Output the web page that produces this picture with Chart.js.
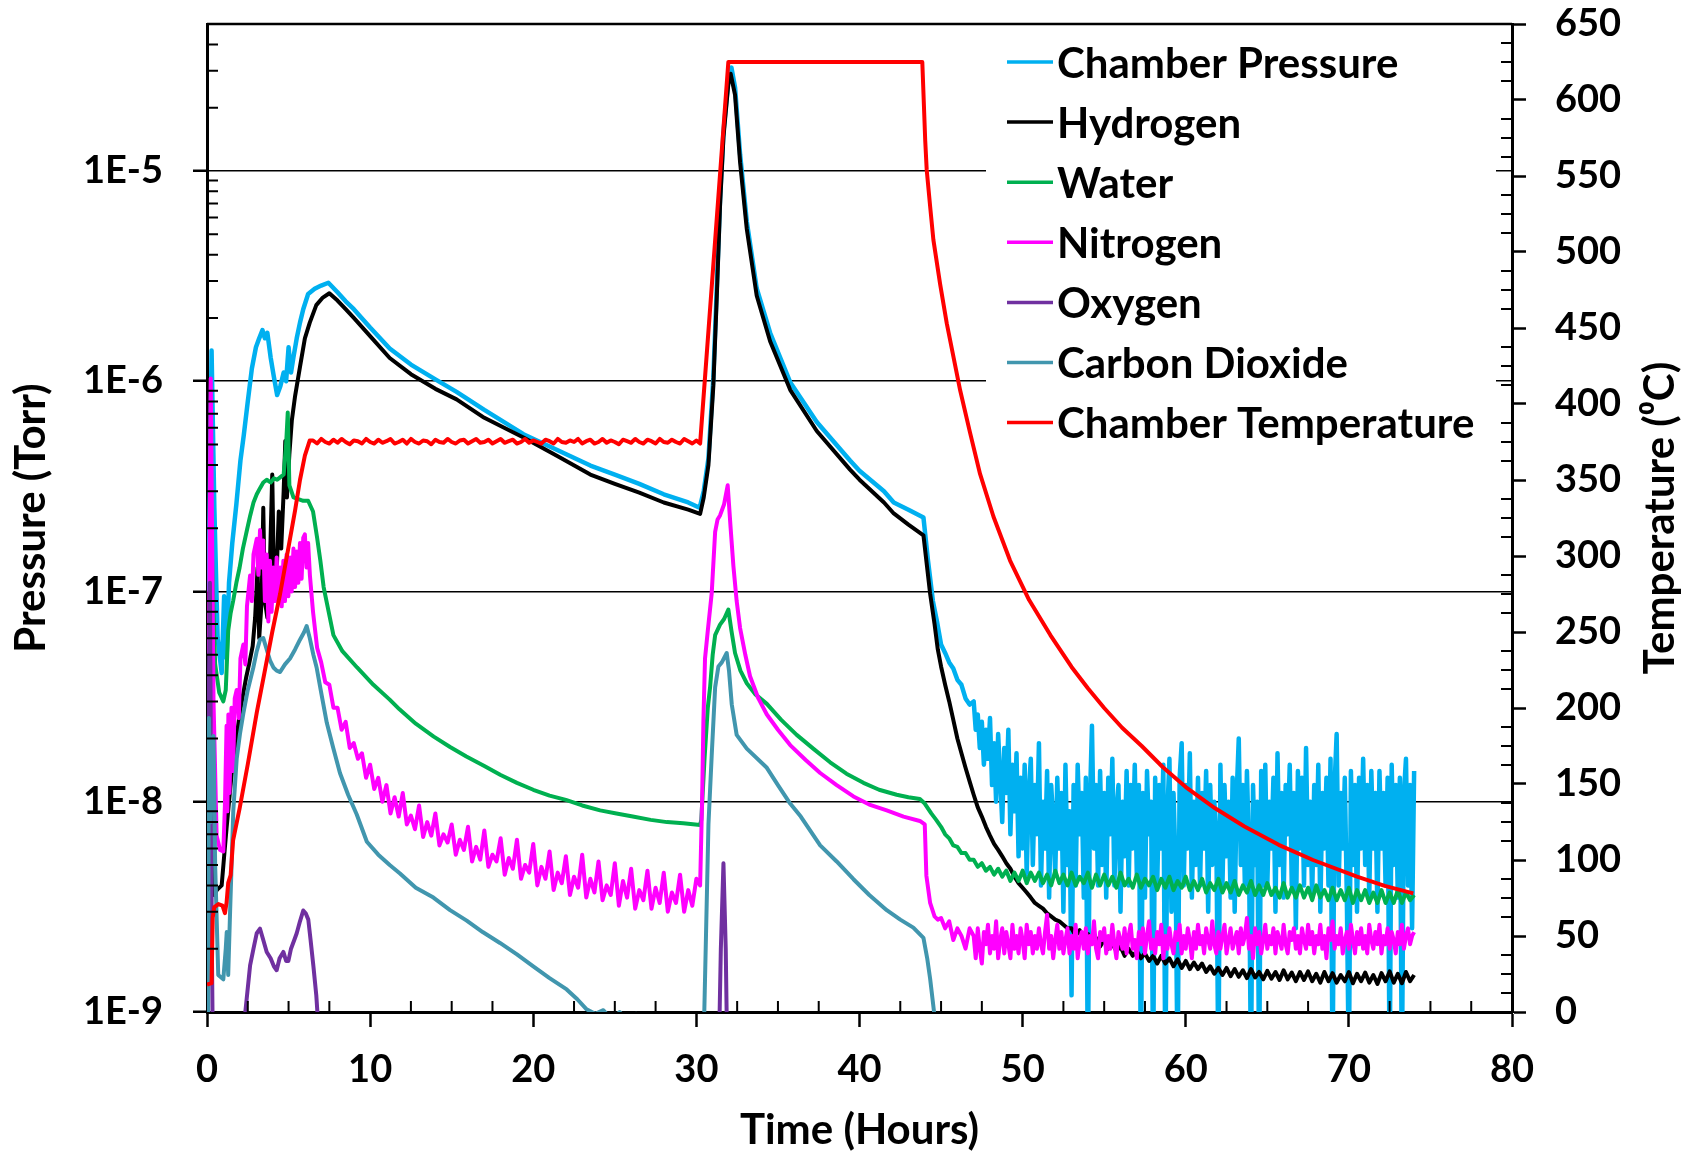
<!DOCTYPE html>
<html>
<head>
<meta charset="utf-8">
<title>Chamber bakeout</title>
<script src="https://cdn.jsdelivr.net/npm/chart.js@4.4.1/dist/chart.umd.min.js"></script>
<style>
  html, body { margin: 0; padding: 0; background: #ffffff; }
  #wrap { width: 1694px; height: 1151px; }
</style>
</head>
<body>
<div id="wrap"><canvas id="bakeoutChart"></canvas></div>
<script>
// ---------------------------------------------------------------
// Data (hours, Torr, degC)
// ---------------------------------------------------------------

// shared sampling grids for the noisy stretches
const midHours = [
  6.5, 6.75, 7, 7.25, 7.5, 7.75, 8, 8.25,
  8.5, 8.75, 9, 9.25, 9.5, 9.75, 10, 10.25,
  10.5, 10.75, 11, 11.25, 11.5, 11.75, 12, 12.25,
  12.5, 12.75, 13, 13.25, 13.5, 13.75, 14, 14.25,
  14.5, 14.75, 15, 15.25, 15.5, 15.75, 16, 16.25,
  16.5, 16.75, 17, 17.25, 17.5, 17.75, 18, 18.25,
  18.5, 18.75, 19, 19.25, 19.5, 19.75, 20, 20.25,
  20.5, 20.75, 21, 21.25, 21.5, 21.75, 22, 22.25,
  22.5, 22.75, 23, 23.25, 23.5, 23.75, 24, 24.25,
  24.5, 24.75, 25, 25.25, 25.5, 25.75, 26, 26.25,
  26.5, 26.75, 27, 27.25, 27.5, 27.75, 28, 28.25,
  28.5, 28.75, 29, 29.25, 29.5, 29.75, 30
];

const tailHours = [
  45, 45.25, 45.5, 45.75, 46, 46.25, 46.5, 46.75,
  47, 47.25, 47.5, 47.75, 48, 48.25, 48.5, 48.75,
  49, 49.25, 49.5, 49.75, 50, 50.25, 50.5, 50.75,
  51, 51.25, 51.5, 51.75, 52, 52.25, 52.5, 52.75,
  53, 53.25, 53.5, 53.75, 54, 54.25, 54.5, 54.75,
  55, 55.25, 55.5, 55.75, 56, 56.25, 56.5, 56.75,
  57, 57.25, 57.5, 57.75, 58, 58.25, 58.5, 58.75,
  59, 59.25, 59.5, 59.75, 60, 60.25, 60.5, 60.75,
  61, 61.25, 61.5, 61.75, 62, 62.25, 62.5, 62.75,
  63, 63.25, 63.5, 63.75, 64, 64.25, 64.5, 64.75,
  65, 65.25, 65.5, 65.75, 66, 66.25, 66.5, 66.75,
  67, 67.25, 67.5, 67.75, 68, 68.25, 68.5, 68.75,
  69, 69.25, 69.5, 69.75, 70, 70.25, 70.5, 70.75,
  71, 71.25, 71.5, 71.75, 72, 72.25, 72.5, 72.75,
  73, 73.25, 73.5, 73.75, 74
];

// right after the bake: 45-46.75 h, then the finely sampled gauge noise
const dropHours = [45, 45.25, 45.5, 45.75, 46, 46.25, 46.5, 46.75];
const denseHours = [
  47, 47.125, 47.25, 47.375, 47.5, 47.625, 47.75, 47.875,
  48, 48.125, 48.25, 48.375, 48.5, 48.625, 48.75, 48.875,
  49, 49.125, 49.25, 49.375, 49.5, 49.625, 49.75, 49.875,
  50, 50.125, 50.25, 50.375, 50.5, 50.625, 50.75, 50.875,
  51, 51.125, 51.25, 51.375, 51.5, 51.625, 51.75, 51.875,
  52, 52.125, 52.25, 52.375, 52.5, 52.625, 52.75, 52.875,
  53, 53.125, 53.25, 53.375, 53.5, 53.625, 53.75, 53.875,
  54, 54.125, 54.25, 54.375, 54.5, 54.625, 54.75, 54.875,
  55, 55.125, 55.25, 55.375, 55.5, 55.625, 55.75, 55.875,
  56, 56.125, 56.25, 56.375, 56.5, 56.625, 56.75, 56.875,
  57, 57.125, 57.25, 57.375, 57.5, 57.625, 57.75, 57.875,
  58, 58.125, 58.25, 58.375, 58.5, 58.625, 58.75, 58.875,
  59, 59.125, 59.25, 59.375, 59.5, 59.625, 59.75, 59.875,
  60, 60.125, 60.25, 60.375, 60.5, 60.625, 60.75, 60.875,
  61, 61.125, 61.25, 61.375, 61.5, 61.625, 61.75, 61.875,
  62, 62.125, 62.25, 62.375, 62.5, 62.625, 62.75, 62.875,
  63, 63.125, 63.25, 63.375, 63.5, 63.625, 63.75, 63.875,
  64, 64.125, 64.25, 64.375, 64.5, 64.625, 64.75, 64.875,
  65, 65.125, 65.25, 65.375, 65.5, 65.625, 65.75, 65.875,
  66, 66.125, 66.25, 66.375, 66.5, 66.625, 66.75, 66.875,
  67, 67.125, 67.25, 67.375, 67.5, 67.625, 67.75, 67.875,
  68, 68.125, 68.25, 68.375, 68.5, 68.625, 68.75, 68.875,
  69, 69.125, 69.25, 69.375, 69.5, 69.625, 69.75, 69.875,
  70, 70.125, 70.25, 70.375, 70.5, 70.625, 70.75, 70.875,
  71, 71.125, 71.25, 71.375, 71.5, 71.625, 71.75, 71.875,
  72, 72.125, 72.25, 72.375, 72.5, 72.625, 72.75, 72.875,
  73, 73.125, 73.25, 73.375, 73.5, 73.625, 73.75, 73.875,
  74
];

// Chamber pressure (ion gauge)
const pressureHours = [
  0.1, 0.28, 0.45, 0.65, 0.9, 1.05, 1.2, 1.35, 1.55, 1.8,
  2.05, 2.25, 2.5, 2.75, 3.0, 3.2, 3.4, 3.55, 3.7, 3.9,
  4.1, 4.3, 4.5, 4.7, 4.85, 5.0, 5.15, 5.3, 5.5, 5.7,
  5.9, 6.2, 6.6, 7.0, 7.44, 8.0, 8.5, 9.0, 10.0, 11.2,
  12.5, 14.0, 15.3, 17.0, 19.4, 21.5, 23.5, 25.0, 26.5, 28.0,
  29.5, 30.2, 30.45, 30.74, 31.04, 31.25, 31.45, 31.66, 31.96, 32.15,
  32.37, 32.68, 33.09, 33.7, 34.52, 35.75, 37.38, 39.42, 40.0, 41.5,
  42.1, 43.0, 43.92, 44.2, 44.5, 44.75
];
const pressure = [
  1.0e-7, 1.4e-6, 2.5e-7, 6e-8, 4.1e-8, 9.5e-8, 4.8e-8, 1.1e-7, 1.7e-7, 2.6e-7,
  4.2e-7, 5.5e-7, 8e-7, 1.15e-6, 1.45e-6, 1.6e-6, 1.75e-6, 1.6e-6, 1.7e-6, 1.3e-6,
  1.05e-6, 8.6e-7, 9.5e-7, 1.1e-6, 1.0e-6, 1.45e-6, 1.1e-6, 1.3e-6, 1.6e-6, 1.9e-6,
  2.2e-6, 2.6e-6, 2.75e-6, 2.85e-6, 2.94e-6, 2.65e-6, 2.4e-6, 2.2e-6, 1.8e-6, 1.43e-6,
  1.2e-6, 1.02e-6, 8.9e-7, 7.3e-7, 5.6e-7, 4.7e-7, 3.97e-7, 3.6e-7, 3.25e-7, 2.9e-7,
  2.65e-7, 2.5e-7, 3.0e-7, 4.3e-7, 1.04e-6, 2.76e-6, 7.3e-6, 1.53e-5, 2.7e-5, 3.1e-5,
  2.5e-5, 1.2e-5, 5.75e-6, 2.76e-6, 1.7e-6, 9.9e-7, 6.4e-7, 4.2e-7, 3.75e-7, 3.0e-7,
  2.65e-7, 2.45e-7, 2.25e-7, 1.4e-7, 9e-8, 7.2e-8
];
const pressureDrop = [5.6e-8, 5.1e-8, 4.6e-8, 4.3e-8, 3.8e-8, 3.6e-8, 3.1e-8, 2.9e-8];
const pressureNoise = [
  3.0e-8, 2.2e-8, 2.6e-8, 1.8e-8, 2.4e-8, 1.5e-8, 2.2e-8, 1.6e-8,
  2.5e-8, 1.2e-8, 1.9e-8, 1.0e-8, 2.1e-8, 1.3e-8, 8e-9, 1.8e-8,
  1.1e-8, 2.2e-8, 7e-9, 1.5e-8, 9e-9, 1.7e-8, 5.5e-9, 1.3e-8,
  6e-9, 1.5e-8, 4.5e-9, 1.1e-8, 1.6e-8, 5e-9, 1.2e-8, 7e-9,
  1.9e-8, 4e-9, 1.0e-8, 6e-9, 1.4e-8, 3.5e-9, 1.2e-8, 8e-9,
  4.5e-9, 1.3e-8, 6e-9, 1.1e-8, 3e-9, 1.5e-8, 5e-9, 9e-9,
  1.2e-9, 1.2e-8, 4e-9, 1.5e-8, 7e-9, 1.1e-8, 3.5e-9, 1.3e-8,
  5e-10, 1.0e-8, 2.3e-8, 6e-9, 1.2e-8, 4e-9, 1.4e-8, 5e-9,
  1.1e-8, 3.5e-9, 1.3e-8, 7e-9, 1.6e-8, 4e-9, 9e-9, 1.2e-8,
  3e-9, 1.0e-8, 5.5e-9, 1.4e-8, 4e-9, 1.2e-8, 6e-9, 1.5e-8,
  4.5e-9, 1.2e-8, 5e-10, 1.1e-8, 3.5e-9, 1.4e-8, 7e-9, 1.0e-8,
  5e-10, 1.3e-8, 4e-9, 1.2e-8, 6e-9, 1.5e-8, 5e-10, 9e-9,
  1.6e-8, 3e-9, 1.1e-8, 5e-9, 5e-10, 1.3e-8, 1.9e-8, 4e-9,
  1.2e-8, 6e-9, 1.7e-8, 3.5e-9, 1.0e-8, 5e-9, 1.3e-8, 4e-9,
  1.1e-8, 6e-9, 1.4e-8, 3e-9, 1.2e-8, 5e-9, 1.0e-8, 7e-9,
  5e-10, 1.5e-8, 4e-9, 1.2e-8, 5.5e-9, 1.0e-8, 3.5e-9, 1.3e-8,
  3e-9, 1.1e-8, 2.0e-8, 5e-9, 1.2e-8, 4e-9, 1.4e-8, 6e-9,
  5e-10, 1.2e-8, 5e-9, 1.0e-8, 5e-10, 1.4e-8, 4e-9, 1.5e-8,
  4e-9, 1.0e-8, 6e-9, 1.3e-8, 3e-9, 1.7e-8, 5e-9, 1.1e-8,
  3.5e-9, 1.2e-8, 7e-9, 1.5e-8, 4e-9, 1.1e-8, 2.5e-9, 1.4e-8,
  6e-9, 1.3e-8, 4e-9, 1.8e-8, 5e-9, 1.0e-8, 3.5e-9, 1.2e-8,
  5e-9, 1.5e-8, 3e-9, 1.1e-8, 6e-9, 1.3e-8, 4e-9, 1.6e-8,
  5e-10, 1.2e-8, 2.1e-8, 4e-9, 1.1e-8, 6e-9, 1.3e-8, 3.5e-9,
  5e-10, 1.4e-8, 5e-9, 1.2e-8, 3e-9, 1.3e-8, 6e-9, 1.6e-8,
  5e-9, 1.2e-8, 3.5e-9, 1.4e-8, 6e-9, 1.1e-8, 3e-9, 1.4e-8,
  6e-9, 1.1e-8, 4e-9, 1.3e-8, 5e-10, 1.5e-8, 5e-9, 1.2e-8,
  3.5e-9, 1.3e-8, 5e-10, 1.1e-8, 1.6e-8, 4e-9, 1.2e-8, 2.5e-9,
  1.4e-8
];

// Hydrogen (RGA mass 2)
const hydrogenHours = [
  0.15, 0.3, 0.45, 0.6, 0.9, 1.05, 1.2, 1.4, 1.6, 1.8,
  2.0, 2.2, 2.4, 2.6, 2.8, 2.95, 3.1, 3.2, 3.35, 3.45,
  3.55, 3.7, 3.85, 4.0, 4.1, 4.25, 4.4, 4.55, 4.7, 4.8,
  4.9, 5.05, 5.2, 5.4, 5.7, 6.0, 6.3, 6.7, 7.1, 7.5,
  8.0, 8.5, 9.0, 10.0, 11.2, 12.5, 14.0, 15.3, 17.0, 19.4,
  21.5, 23.5, 25.0, 26.5, 28.0, 29.5, 30.23, 30.45, 30.74, 31.04,
  31.25, 31.45, 31.66, 31.96, 32.1, 32.37, 32.68, 33.09, 33.7, 34.52,
  35.75, 37.38, 39.42, 40.0, 41.5, 42.1, 43.0, 43.92, 44.33, 44.6,
  44.8
];
const hydrogen = [
  1.2e-8, 5e-9, 3.6e-9, 3.8e-9, 4.0e-9, 5.5e-9, 7.5e-9, 1.1e-8, 1.6e-8, 2.0e-8,
  2.6e-8, 3.2e-8, 3.9e-8, 4.6e-8, 5.5e-8, 7.5e-8, 1.3e-7, 6e-8, 9e-8, 2.5e-7,
  9e-8, 7.5e-8, 1.3e-7, 3.6e-7, 1.2e-7, 1.1e-7, 2.4e-7, 1.6e-7, 3e-7, 5.2e-7,
  2.8e-7, 4.5e-7, 6.5e-7, 8.5e-7, 1.17e-6, 1.6e-6, 1.9e-6, 2.3e-6, 2.5e-6, 2.62e-6,
  2.42e-6, 2.2e-6, 2.0e-6, 1.64e-6, 1.29e-6, 1.08e-6, 9.2e-7, 8.2e-7, 6.7e-7, 5.4e-7,
  4.4e-7, 3.6e-7, 3.25e-7, 2.95e-7, 2.65e-7, 2.45e-7, 2.34e-7, 2.8e-7, 4.0e-7, 9.5e-7,
  2.5e-6, 6.8e-6, 1.45e-5, 2.6e-5, 2.9e-5, 2.3e-5, 1.1e-5, 5.3e-6, 2.55e-6, 1.55e-6,
  9.1e-7, 5.8e-7, 3.8e-7, 3.4e-7, 2.65e-7, 2.35e-7, 2.08e-7, 1.85e-7, 9.75e-8, 7e-8,
  5.3e-8
];
const hydrogenTail = [
  4.4e-8, 3.6e-8, 3.0e-8, 2.45e-8, 2.0e-8, 1.7e-8, 1.45e-8, 1.25e-8,
  1.08e-8, 9.4e-9, 8.5e-9, 7.6e-9, 6.9e-9, 6.3e-9, 5.9e-9, 5.5e-9,
  5.1e-9, 4.8e-9, 4.4e-9, 4.1e-9, 3.9e-9, 3.7e-9, 3.5e-9, 3.3e-9,
  3.2e-9, 3.1e-9, 2.95e-9, 2.85e-9, 2.75e-9, 2.7e-9, 2.6e-9, 2.5e-9,
  2.5e-9, 2.3e-9, 2.45e-9, 2.2e-9, 2.35e-9, 2.15e-9, 2.25e-9, 2.05e-9,
  2.2e-9, 2.0e-9, 2.1e-9, 1.95e-9, 2.05e-9, 1.85e-9, 2.0e-9, 1.85e-9,
  1.95e-9, 1.8e-9, 1.9e-9, 1.75e-9, 1.85e-9, 1.7e-9, 1.85e-9, 1.7e-9,
  1.8e-9, 1.65e-9, 1.78e-9, 1.62e-9, 1.75e-9, 1.6e-9, 1.72e-9, 1.6e-9,
  1.7e-9, 1.55e-9, 1.65e-9, 1.52e-9, 1.62e-9, 1.5e-9, 1.62e-9, 1.48e-9,
  1.6e-9, 1.47e-9, 1.58e-9, 1.45e-9, 1.6e-9, 1.46e-9, 1.55e-9, 1.43e-9,
  1.57e-9, 1.44e-9, 1.55e-9, 1.42e-9, 1.58e-9, 1.43e-9, 1.54e-9, 1.4e-9,
  1.55e-9, 1.42e-9, 1.56e-9, 1.4e-9, 1.52e-9, 1.38e-9, 1.55e-9, 1.4e-9,
  1.53e-9, 1.38e-9, 1.5e-9, 1.4e-9, 1.55e-9, 1.37e-9, 1.52e-9, 1.4e-9,
  1.54e-9, 1.38e-9, 1.5e-9, 1.36e-9, 1.53e-9, 1.4e-9, 1.56e-9, 1.38e-9,
  1.52e-9, 1.37e-9, 1.55e-9, 1.4e-9, 1.5e-9
];

// Water (mass 18)
const waterHours = [
  0.3, 0.5, 0.75, 1.0, 1.15, 1.3, 1.45, 1.6, 1.8, 2.0,
  2.2, 2.45, 2.65, 2.85, 3.05, 3.25, 3.45, 3.66, 3.9, 4.1,
  4.3, 4.5, 4.7, 4.85, 4.95, 5.05, 5.3, 5.6, 5.9, 6.2,
  6.5, 6.75, 6.95, 7.15, 7.35, 7.75, 8.3, 9.2, 10.2, 11.2,
  11.8, 12.8, 13.9, 14.9, 15.9, 17.0, 18.0, 19.0, 20.0, 21.0,
  22.0, 23.0, 24.1, 25.1, 26.1, 27.2, 28.2, 29.2, 30.23, 30.3,
  30.5, 30.7, 30.84, 31.0, 31.15, 31.45, 31.7, 31.96, 32.15, 32.37,
  32.7, 33.09, 33.6, 34.32, 35.2, 36.15, 37.2, 38.2, 39.2, 40.24,
  41.2, 42.28, 43.0, 43.7, 44.0, 44.4, 44.7
];
const water = [
  1.5e-7, 4.5e-8, 3.3e-8, 3.0e-8, 3.4e-8, 6.5e-8, 7.9e-8, 9e-8, 1.1e-7, 1.3e-7,
  1.6e-7, 1.96e-7, 2.3e-7, 2.65e-7, 2.9e-7, 3.1e-7, 3.3e-7, 3.4e-7, 3.3e-7, 3.45e-7,
  3.4e-7, 3.5e-7, 3.6e-7, 5e-7, 7.1e-7, 3.2e-7, 2.8e-7, 2.75e-7, 2.7e-7, 2.7e-7,
  2.4e-7, 1.8e-7, 1.4e-7, 1.05e-7, 8.8e-8, 6.2e-8, 5.2e-8, 4.35e-8, 3.6e-8, 3.06e-8,
  2.75e-8, 2.35e-8, 2.04e-8, 1.82e-8, 1.64e-8, 1.48e-8, 1.34e-8, 1.23e-8, 1.14e-8, 1.07e-8,
  1.02e-8, 9.6e-9, 9.1e-9, 8.8e-9, 8.5e-9, 8.2e-9, 8.0e-9, 7.9e-9, 7.76e-9, 8.2e-9,
  1.6e-8, 2.8e-8, 3.5e-8, 5.0e-8, 6.2e-8, 6.95e-8, 7.4e-8, 8.2e-8, 6.5e-8, 5.1e-8,
  4.2e-8, 3.66e-8, 3.25e-8, 2.92e-8, 2.45e-8, 2.08e-8, 1.78e-8, 1.54e-8, 1.36e-8, 1.23e-8,
  1.14e-8, 1.08e-8, 1.05e-8, 1.03e-8, 9.8e-9, 8.8e-9, 8.2e-9
];
const waterTail = [
  7.6e-9, 7.0e-9, 6.7e-9, 6.2e-9, 6.1e-9, 5.7e-9, 5.7e-9, 5.3e-9,
  5.3e-9, 4.9e-9, 5.1e-9, 4.7e-9, 4.9e-9, 4.5e-9, 4.8e-9, 4.4e-9,
  4.7e-9, 4.2e-9, 4.6e-9, 4.2e-9, 4.7e-9, 4.1e-9, 4.6e-9, 4.2e-9,
  4.6e-9, 4.1e-9, 4.5e-9, 4.0e-9, 4.7e-9, 4.1e-9, 4.5e-9, 4.0e-9,
  4.6e-9, 4.0e-9, 4.4e-9, 4.1e-9, 4.6e-9, 3.9e-9, 4.5e-9, 4.0e-9,
  4.5e-9, 4.0e-9, 4.4e-9, 3.9e-9, 4.6e-9, 4.0e-9, 4.3e-9, 3.9e-9,
  4.5e-9, 3.9e-9, 4.3e-9, 4.0e-9, 4.4e-9, 3.8e-9, 4.3e-9, 3.9e-9,
  4.4e-9, 3.8e-9, 4.2e-9, 3.9e-9, 4.4e-9, 3.8e-9, 4.2e-9, 3.8e-9,
  4.3e-9, 3.7e-9, 4.1e-9, 3.8e-9, 4.3e-9, 3.7e-9, 4.1e-9, 3.7e-9,
  4.2e-9, 3.6e-9, 4.0e-9, 3.7e-9, 4.2e-9, 3.6e-9, 4.0e-9, 3.6e-9,
  4.1e-9, 3.6e-9, 3.9e-9, 3.5e-9, 4.1e-9, 3.5e-9, 3.9e-9, 3.5e-9,
  4.0e-9, 3.5e-9, 3.9e-9, 3.4e-9, 4.0e-9, 3.5e-9, 3.8e-9, 3.4e-9,
  3.9e-9, 3.4e-9, 3.8e-9, 3.4e-9, 3.9e-9, 3.3e-9, 3.8e-9, 3.4e-9,
  3.8e-9, 3.3e-9, 3.7e-9, 3.3e-9, 3.8e-9, 3.3e-9, 3.7e-9, 3.3e-9,
  3.8e-9, 3.3e-9, 3.7e-9, 3.4e-9, 3.6e-9
];

// Nitrogen (mass 28)
const nitrogenHours = [
  0.12, 0.23, 0.4, 0.59, 0.8, 1.0, 1.1, 1.2, 1.25, 1.31,
  1.38, 1.5, 1.6, 1.7, 1.82, 1.95, 2.05, 2.23, 2.35, 2.45,
  2.64, 2.75, 2.85, 3.05, 3.15, 3.25, 3.35, 3.45, 3.55, 3.66,
  3.76, 3.86, 3.96, 4.06, 4.17, 4.27, 4.37, 4.48, 4.58, 4.68,
  4.78, 4.88, 4.99, 5.09, 5.19, 5.3, 5.4, 5.5, 5.6, 5.7,
  5.8, 5.9, 6.0, 6.1, 6.2, 6.31
];
const nitrogen = [
  5e-8, 1.03e-6, 3e-8, 6.9e-9, 5.9e-9, 5.8e-9, 9.7e-9, 2.3e-8, 9e-9, 2.6e-8,
  1.1e-8, 2.8e-8, 1.4e-8, 3.1e-8, 3.4e-8, 2.5e-8, 4.8e-8, 5.6e-8, 4.5e-8, 8.5e-8,
  1.19e-7, 9e-8, 1.5e-7, 1.78e-7, 1.2e-7, 1.96e-7, 1.3e-7, 1.75e-7, 9e-8, 1.5e-7,
  7.2e-8, 1.4e-7, 8e-8, 1.3e-7, 9e-8, 1.45e-7, 9.2e-8, 1.3e-7, 8.5e-8, 1.4e-7,
  9e-8, 1.5e-7, 9.5e-8, 1.45e-7, 1e-7, 1.6e-7, 1.05e-7, 1.55e-7, 1.1e-7, 1.7e-7,
  1.15e-7, 1.8e-7, 1.87e-7, 1.3e-7, 1.7e-7, 1.19e-7
];
const nitrogenMid = [
  8.0e-8, 5.4e-8, 4.6e-8, 3.7e-8, 3.6e-8, 2.8e-8, 2.8e-8, 2.2e-8,
  2.4e-8, 1.8e-8, 1.9e-8, 1.6e-8, 1.7e-8, 1.3e-8, 1.5e-8, 1.15e-8,
  1.3e-8, 1.0e-8, 1.2e-8, 8.8e-9, 1.05e-8, 8.5e-9, 1.1e-8, 7.8e-9,
  8.6e-9, 7.4e-9, 9.6e-9, 6.8e-9, 8.0e-9, 6.9e-9, 8.8e-9, 6.2e-9,
  7.0e-9, 6.4e-9, 7.8e-9, 5.6e-9, 6.6e-9, 5.9e-9, 7.6e-9, 5.2e-9,
  6.1e-9, 5.3e-9, 7.3e-9, 4.9e-9, 5.6e-9, 5.2e-9, 6.7e-9, 4.5e-9,
  5.4e-9, 4.8e-9, 6.6e-9, 4.3e-9, 5.0e-9, 4.6e-9, 6.3e-9, 4.0e-9,
  4.9e-9, 4.3e-9, 5.8e-9, 3.8e-9, 4.6e-9, 4.1e-9, 5.5e-9, 3.6e-9,
  4.4e-9, 3.9e-9, 5.6e-9, 3.5e-9, 4.3e-9, 3.7e-9, 5.2e-9, 3.4e-9,
  4.0e-9, 3.6e-9, 5.1e-9, 3.2e-9, 4.2e-9, 3.5e-9, 4.8e-9, 3.1e-9,
  3.8e-9, 3.4e-9, 4.7e-9, 3.1e-9, 3.9e-9, 3.3e-9, 4.6e-9, 3.0e-9,
  3.7e-9, 3.3e-9, 4.5e-9, 3.0e-9, 3.8e-9, 3.2e-9, 4.3e-9
];
const nitrogenPeakHours = [
  30.23, 30.35, 30.43, 30.53, 30.7, 30.94, 31.15, 31.3, 31.45, 31.7,
  31.92, 32.1, 32.27, 32.47, 32.68, 33.0, 33.29, 33.8, 34.32, 35.0,
  35.75, 36.7, 37.59, 38.6, 39.63, 40.6, 41.67, 42.7, 43.7, 44.0,
  44.1, 44.33, 44.6, 44.8
];
const nitrogenPeak = [
  4.0e-9, 1.0e-8, 2.4e-8, 4.8e-8, 6.5e-8, 9.8e-8, 1.92e-7, 2.2e-7, 2.3e-7, 2.6e-7,
  3.2e-7, 2.0e-7, 1.32e-7, 9e-8, 6.7e-8, 5e-8, 3.95e-8, 3.1e-8, 2.6e-8, 2.2e-8,
  1.86e-8, 1.58e-8, 1.37e-8, 1.2e-8, 1.06e-8, 9.7e-9, 9.1e-9, 8.5e-9, 8.1e-9, 7.8e-9,
  4.45e-9, 3.3e-9, 2.85e-9, 2.75e-9
];
const nitrogenDrop = [2.8e-9, 2.5e-9, 2.7e-9, 2.2e-9, 2.5e-9, 2.3e-9, 2.0e-9, 2.5e-9];
const nitrogenNoise = [
  2.3e-9, 1.8e-9, 2.5e-9, 2.0e-9, 1.7e-9, 2.4e-9, 2.1e-9, 2.6e-9,
  1.9e-9, 2.3e-9, 2.0e-9, 2.7e-9, 1.8e-9, 2.2e-9, 2.5e-9, 1.9e-9,
  2.4e-9, 2.1e-9, 1.8e-9, 2.6e-9, 2.0e-9, 2.3e-9, 1.9e-9, 2.5e-9,
  2.2e-9, 1.8e-9, 2.6e-9, 2.1e-9, 2.4e-9, 1.9e-9, 2.3e-9, 2.0e-9,
  2.5e-9, 2.1e-9, 1.9e-9, 2.4e-9, 2.9e-9, 2.0e-9, 2.3e-9, 1.8e-9,
  2.2e-9, 2.6e-9, 2.0e-9, 2.4e-9, 1.9e-9, 2.2e-9, 2.5e-9, 1.9e-9,
  2.3e-9, 2.0e-9, 2.6e-9, 1.8e-9, 2.2e-9, 2.4e-9, 2.0e-9, 2.5e-9,
  1.9e-9, 2.3e-9, 2.1e-9, 2.7e-9, 2.0e-9, 1.8e-9, 2.4e-9, 2.2e-9,
  2.5e-9, 1.9e-9, 2.3e-9, 2.0e-9, 2.6e-9, 2.1e-9, 1.8e-9, 2.4e-9,
  2.2e-9, 2.0e-9, 2.5e-9, 1.9e-9, 2.3e-9, 2.6e-9, 2.0e-9, 2.2e-9,
  1.8e-9, 2.4e-9, 2.1e-9, 2.5e-9, 1.9e-9, 2.3e-9, 2.7e-9, 2.0e-9,
  2.2e-9, 1.9e-9, 2.4e-9, 2.1e-9, 2.6e-9, 1.8e-9, 2.3e-9, 2.0e-9,
  2.5e-9, 2.1e-9, 1.9e-9, 2.4e-9, 2.2e-9, 2.6e-9, 1.9e-9, 2.3e-9,
  2.0e-9, 2.5e-9, 2.2e-9, 1.8e-9, 2.4e-9, 2.0e-9, 2.6e-9, 2.1e-9,
  2.3e-9, 1.9e-9, 2.5e-9, 2.2e-9, 2.0e-9, 2.7e-9, 2.1e-9, 1.9e-9,
  2.4e-9, 2.0e-9, 2.3e-9, 2.6e-9, 1.9e-9, 2.2e-9, 2.5e-9, 2.0e-9,
  2.2e-9, 2.4e-9, 1.9e-9, 2.5e-9, 2.1e-9, 2.3e-9, 2.8e-9, 2.0e-9,
  2.3e-9, 1.8e-9, 2.5e-9, 2.1e-9, 2.4e-9, 1.9e-9, 2.2e-9, 2.6e-9,
  2.0e-9, 2.3e-9, 2.1e-9, 2.5e-9, 1.9e-9, 2.4e-9, 2.2e-9, 2.0e-9,
  2.6e-9, 2.1e-9, 1.9e-9, 2.4e-9, 2.2e-9, 2.5e-9, 2.0e-9, 2.3e-9,
  1.9e-9, 2.5e-9, 2.2e-9, 2.0e-9, 2.6e-9, 2.1e-9, 2.4e-9, 1.9e-9,
  2.3e-9, 2.1e-9, 2.6e-9, 2.0e-9, 2.3e-9, 1.8e-9, 2.5e-9, 2.2e-9,
  2.7e-9, 2.0e-9, 2.3e-9, 2.1e-9, 2.5e-9, 1.9e-9, 2.2e-9, 2.4e-9,
  2.0e-9, 2.6e-9, 2.2e-9, 1.9e-9, 2.4e-9, 2.1e-9, 2.5e-9, 2.0e-9,
  2.3e-9, 1.9e-9, 2.6e-9, 2.2e-9, 2.0e-9, 2.4e-9, 2.1e-9, 2.6e-9,
  1.9e-9, 2.3e-9, 2.1e-9, 2.5e-9, 2.0e-9, 2.4e-9, 2.2e-9, 1.9e-9,
  2.4e-9, 2.1e-9, 2.6e-9, 2.0e-9, 2.3e-9, 2.5e-9, 2.1e-9, 2.3e-9,
  2.4e-9
];

// Oxygen (mass 32)
const oxygenHours = [
  0.02, 0.18, 0.3, 0.4, 2.0, 2.35, 2.64, 2.85, 3.05, 3.25,
  3.45, 3.66, 3.9, 4.1, 4.27, 4.45, 4.68, 4.85, 4.99, 5.15,
  5.35, 5.5, 5.7, 5.9, 6.05, 6.21, 6.35, 6.52, 6.7, 6.85,
  7.0, 31.3, 31.5, 31.66, 31.8, 31.95
];
const oxygen = [
  6e-9, 1.1e-7, 2e-9, 3e-10, 3e-10, 1.0e-9, 1.66e-9, 2.0e-9, 2.37e-9, 2.49e-9,
  2.2e-9, 1.93e-9, 1.8e-9, 1.65e-9, 1.58e-9, 1.8e-9, 1.93e-9, 1.75e-9, 1.75e-9, 2.0e-9,
  2.2e-9, 2.37e-9, 2.7e-9, 3.04e-9, 2.95e-9, 2.75e-9, 2.2e-9, 1.66e-9, 1.2e-9, 8e-10,
  3e-10, 3e-10, 2e-9, 5.1e-9, 2e-9, 3e-10
];

// Carbon dioxide (mass 44)
const co2Hours = [
  0.05, 0.12, 0.2, 0.3, 0.4, 0.5, 0.69, 1.0, 1.15, 1.21,
  1.3, 1.41, 1.61, 1.82, 2.02, 2.23, 2.5, 2.84, 3.05, 3.25,
  3.45, 3.66, 3.86, 4.07, 4.27, 4.48, 4.78, 5.09, 5.4, 5.7,
  5.95, 6.11, 6.3, 6.52, 6.72, 7.0, 7.34, 7.74, 8.15, 8.65,
  9.18, 9.8, 10.5, 11.2, 11.83, 12.8, 13.88, 14.9, 15.92, 16.9,
  17.96, 19.0, 20.0, 21.0, 22.05, 22.7, 23.27, 23.8, 24.3, 24.8,
  25.3, 25.8, 26.3, 26.8, 27.3, 27.8, 28.3, 30.4, 30.74, 30.94,
  31.15, 31.35, 31.56, 31.86, 32.0, 32.17, 32.47, 33.09, 34.32, 35.0,
  35.75, 36.4, 37.59, 38.6, 39.63, 40.6, 41.67, 42.5, 43.3, 43.92,
  44.15, 44.33, 44.64, 44.8
];
const co2 = [
  4e-10, 2.5e-8, 8e-9, 2.0e-8, 2.05e-8, 5e-9, 1.5e-9, 1.43e-9, 2.0e-9, 2.4e-9,
  1.5e-9, 2.9e-9, 9e-9, 1.6e-8, 2.1e-8, 2.64e-8, 3.4e-8, 4.35e-8, 5.2e-8, 5.9e-8,
  6.0e-8, 5.3e-8, 4.7e-8, 4.35e-8, 4.2e-8, 4.14e-8, 4.5e-8, 4.8e-8, 5.3e-8, 5.9e-8,
  6.4e-8, 6.85e-8, 6.0e-8, 5.0e-8, 4.35e-8, 3.3e-8, 2.38e-8, 1.8e-8, 1.37e-8, 1.08e-8,
  8.7e-9, 6.45e-9, 5.6e-9, 5.0e-9, 4.56e-9, 3.9e-9, 3.5e-9, 3.05e-9, 2.72e-9, 2.4e-9,
  2.13e-9, 1.88e-9, 1.65e-9, 1.45e-9, 1.28e-9, 1.15e-9, 1.03e-9, 9.8e-10, 1.02e-9, 9.2e-10,
  1.0e-9, 9e-10, 9.8e-10, 8.8e-10, 9.5e-10, 8e-10, 5e-10, 5e-10, 7.8e-9, 1.66e-8,
  3.5e-8, 4.4e-8, 4.6e-8, 5.1e-8, 4.2e-8, 2.9e-8, 2.08e-8, 1.79e-8, 1.45e-8, 1.2e-8,
  9.8e-9, 8.5e-9, 6.2e-9, 5.2e-9, 4.28e-9, 3.6e-9, 3.05e-9, 2.75e-9, 2.52e-9, 2.25e-9,
  1.8e-9, 1.44e-9, 9e-10, 5e-10
];

// Chamber temperature (degC): first ramp, 375 C hold, 625 C bake and cool-down
const tempHours = [
  0, 0.28, 0.35, 0.45, 0.7, 0.95, 1.1, 1.2, 1.3, 1.45,
  1.6, 2.0, 2.5, 3.05, 3.5, 4.0, 4.48, 5.0, 5.4, 5.7,
  6.0, 6.3
];
const temp = [
  18, 19, 62, 69, 71, 70, 65, 72, 85, 90,
  113, 134, 163, 197, 222, 250, 275, 306, 330, 350,
  366, 376
];
const tempHold = [
  376, 374, 377, 375, 374, 376.5, 374.5, 377,
  375, 373.5, 376, 375.5, 374, 377, 375, 374,
  376.5, 374.5, 375.5, 377, 374, 375, 376.5, 374,
  377, 375, 374, 376, 375.5, 373.5, 376.5, 375,
  374.5, 377, 375, 374, 376, 376.5, 374, 375.5,
  377, 374.5, 375, 376.5, 374, 375.5, 377, 374.5,
  375.5, 376.5, 374, 375, 377, 374.5, 376, 375,
  374, 376.5, 375.5, 374, 377, 375, 374.5, 376,
  375, 377, 374, 375.5, 376.5, 374, 375, 377,
  374.5, 376, 375, 373.5, 376.5, 375.5, 374.5, 377,
  375, 374, 376.5, 375.5, 374, 377, 375, 374.5,
  376.5, 375, 374, 377, 375.5, 374, 376
];
const tempBakeHours = [
  30.23, 31.96, 43.85, 44.03, 44.12, 44.33, 44.53, 44.94, 45.35, 45.76,
  46.17, 46.78, 47.39, 48.21, 49.23, 50.4, 51.7, 53.0, 54.0, 55.0,
  56.1, 57.3, 58.6, 60.0, 61.8, 63.6, 65.7, 67.8, 70.5, 72.2,
  73.95
];
const tempBake = [
  374, 625, 625, 573, 554, 530, 508, 479, 453, 431,
  409, 381, 354, 326, 297, 271, 248, 227, 213, 200,
  187, 175, 161, 148, 134, 122, 110, 100, 89, 83,
  78
];

// axis labelling
const pressureDecades = [1e-9, 1e-8, 1e-7, 1e-6, 1e-5];
const seriesNames = [
  "Chamber Pressure", "Hydrogen", "Water", "Nitrogen",
  "Oxygen", "Carbon Dioxide", "Chamber Temperature"
];
const seriesColors = ["#00B0F0", "#000000", "#00B050", "#FF00FF", "#7030A0", "#4196AE", "#FF0000"];
const seriesWidths = [4.5, 4, 4, 4, 4, 4, 4];

// ---------------------------------------------------------------
// helpers
// ---------------------------------------------------------------
function toPoints(hours, values) {
    return hours.map((h, i) => ({ x: h, y: values[i] }));
}

const FONT_FAMILY = "Lato, 'Open Sans', sans-serif";
const tickFont = { family: FONT_FAMILY, size: 38, weight: "bold" };
const titleFont = { family: FONT_FAMILY, size: 42, weight: "bold", lineHeight: 1 };

// minor tick positions (inside ticks, no labels)
const pressureMinor = [];
for (let e = -9; e <= -5; e++) {
    for (let k = 2; k <= 9; k++) {
        const v = k * Math.pow(10, e);
        if (v < 5e-5) pressureMinor.push(v);
    }
}
const hourMinor = [];
for (let h = 2.5; h < 80; h += 2.5) if (h % 10 !== 0) hourMinor.push(h);
const tempMinor = [];
for (let d = 12.5; d < 650; d += 12.5) if (d % 50 !== 0) tempMinor.push(d);

// fixed plot box: drop the label overflow padding Chart.js adds
function fixVertical(width) {
    return s => {
        s.width = width;
        s.paddingTop = 0;
        s.paddingBottom = 0;
    };
}

// ---------------------------------------------------------------
// plugins: frame, minor ticks, right-hand title, inset legend
// ---------------------------------------------------------------
const axisDecor = {
    id: "axisDecor",
    afterDatasetsDraw(chart) {
        const { ctx, chartArea: a, scales } = chart;
        ctx.save();
        ctx.strokeStyle = "#000";
        ctx.lineWidth = 2;
        ctx.beginPath();
        pressureMinor.forEach(v => {
            const y = scales.y.getPixelForValue(v);
            ctx.moveTo(a.left, y);
            ctx.lineTo(a.left + 11, y);
        });
        hourMinor.forEach(h => {
            const x = scales.x.getPixelForValue(h);
            ctx.moveTo(x, a.bottom);
            ctx.lineTo(x, a.bottom - 11);
        });
        tempMinor.forEach(d => {
            const y = scales.y2.getPixelForValue(d);
            ctx.moveTo(a.right, y);
            ctx.lineTo(a.right - 11, y);
        });
        ctx.stroke();

        // top edge of the plot frame
        ctx.lineWidth = 2.5;
        ctx.beginPath();
        ctx.moveTo(a.left, a.top);
        ctx.lineTo(a.right, a.top);
        ctx.stroke();
        ctx.restore();
    },
    afterDraw(chart) {
        // right axis title reads bottom-to-top like the left one
        const { ctx, chartArea: a } = chart;
        ctx.save();
        ctx.translate(a.right + 148, (a.top + a.bottom) / 2);
        ctx.rotate(-Math.PI / 2);
        ctx.font = "bold 42px " + FONT_FAMILY;
        ctx.fillStyle = "#000";
        ctx.textAlign = "center";
        ctx.textBaseline = "middle";
        ctx.fillText("Temperature (\u2070C)", 0, 0);
        ctx.restore();
    }
};

const insetLegend = {
    id: "insetLegend",
    beforeDatasetsDraw(chart) {
        const { ctx, chartArea: a } = chart;
        ctx.save();
        ctx.fillStyle = "#ffffff";
        ctx.fillRect(a.right - 526, a.top + 3, 510, 425);
        ctx.restore();
    },
    afterDatasetsDraw(chart) {
        const { ctx, chartArea: a } = chart;
        const x0 = a.right - 505;
        ctx.save();
        ctx.font = "bold 42px " + FONT_FAMILY;
        ctx.textBaseline = "middle";
        ctx.fillStyle = "#000";
        chart.data.datasets.forEach((ds, i) => {
            const y = a.top + 38 + i * 60.1;
            ctx.strokeStyle = ds.borderColor;
            ctx.lineWidth = 3.5;
            ctx.beginPath();
            ctx.moveTo(x0, y);
            ctx.lineTo(x0 + 46, y);
            ctx.stroke();
            ctx.fillText(ds.label, x0 + 50, y + 2);
        });
        ctx.restore();
    }
};

// ---------------------------------------------------------------
// chart
// ---------------------------------------------------------------
document.addEventListener("DOMContentLoaded", () => {
    const canvas = document.getElementById("bakeoutChart");
    if (!canvas || typeof Chart === "undefined") return;

    const seriesData = [
        toPoints(pressureHours.concat(dropHours, denseHours),
                 pressure.concat(pressureDrop, pressureNoise)),
        toPoints(hydrogenHours.concat(tailHours), hydrogen.concat(hydrogenTail)),
        toPoints(waterHours.concat(tailHours), water.concat(waterTail)),
        toPoints(nitrogenHours.concat(midHours, nitrogenPeakHours, dropHours, denseHours),
                 nitrogen.concat(nitrogenMid, nitrogenPeak, nitrogenDrop, nitrogenNoise)),
        toPoints(oxygenHours, oxygen),
        toPoints(co2Hours, co2),
        toPoints(tempHours.concat(midHours, tempBakeHours), temp.concat(tempHold, tempBake))
    ];

    const datasets = seriesNames.map((name, i) => ({
        label: name,
        data: seriesData[i],
        borderColor: seriesColors[i],
        backgroundColor: seriesColors[i],
        borderWidth: seriesWidths[i],
        borderJoinStyle: "round",
        pointRadius: 0,
        tension: 0,
        fill: false,
        clip: 0,
        yAxisID: i === 6 ? "y2" : "y",
        order: 6 - i            // pressure at the back, temperature in front
    }));

    new Chart(canvas, {
        type: "line",
        data: { datasets },
        options: {
            responsive: true,
            maintainAspectRatio: false,
            animation: false,
            events: [],
            layout: { padding: { top: 24 } },
            plugins: {
                legend: { display: false },
                tooltip: { enabled: false }
            },
            scales: {
                x: {
                    type: "linear",
                    position: "bottom",
                    min: 0,
                    max: 80,
                    afterFit: s => {
                        s.height = 139;
                        s.paddingLeft = 0;
                        s.paddingRight = 0;
                    },
                    ticks: {
                        stepSize: 10,
                        autoSkip: false,
                        maxRotation: 0,
                        padding: 20,
                        color: "#000",
                        font: tickFont
                    },
                    grid: {
                        drawOnChartArea: false,
                        tickLength: 15,
                        tickWidth: 2.5,
                        tickColor: "#000"
                    },
                    border: { color: "#000", width: 3 },
                    title: {
                        display: true,
                        text: "Time (Hours)",
                        color: "#000",
                        font: titleFont,
                        padding: { top: 0, bottom: 0 }
                    }
                },
                y: {
                    type: "logarithmic",
                    position: "left",
                    min: 1e-9,
                    max: 5e-5,
                    afterFit: fixVertical(207),
                    afterBuildTicks: axis => {
                        axis.ticks = pressureDecades.map(v => ({ value: v }));
                    },
                    ticks: {
                        autoSkip: false,
                        padding: 30,
                        color: "#000",
                        font: tickFont,
                        callback: v => "1E" + Math.round(Math.log10(v))
                    },
                    grid: {
                        color: "#000",
                        lineWidth: 1.5,
                        tickLength: 14,
                        tickWidth: 2.5,
                        tickColor: "#000"
                    },
                    border: { color: "#000", width: 3 },
                    title: {
                        display: true,
                        text: "Pressure (Torr)",
                        color: "#000",
                        font: titleFont,
                        padding: { top: 10, bottom: 0 }
                    }
                },
                y2: {
                    type: "linear",
                    position: "right",
                    min: 0,
                    max: 650,
                    afterFit: fixVertical(182),
                    ticks: {
                        stepSize: 50,
                        autoSkip: false,
                        padding: 29,
                        color: "#000",
                        font: tickFont
                    },
                    grid: {
                        drawOnChartArea: false,
                        tickLength: 14,
                        tickWidth: 2.5,
                        tickColor: "#000"
                    },
                    border: { color: "#000", width: 3 }
                }
            }
        },
        plugins: [axisDecor, insetLegend]
    });
});
</script>
</body>
</html>
